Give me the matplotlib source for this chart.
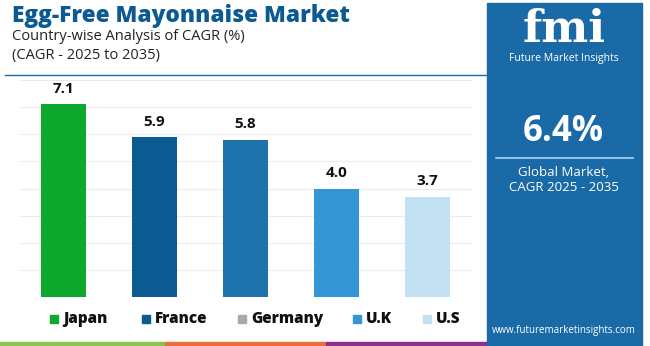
import matplotlib
matplotlib.use("Agg")
import matplotlib.pyplot as plt
from matplotlib.patches import Rectangle
from matplotlib.lines import Line2D

countries = ["Japan", "France", "Germany", "U.K", "U.S"]
cagr = [7.1, 5.9, 5.8, 4.0, 3.7]
bar_colors = ["#0ea82e", "#0b5a91", "#1e73ad", "#3596d6", "#c3e1f2"]
legend_colors = ["#0ea82e", "#0b5a91", "#aaaaaa", "#3596d6", "#c3e1f2"]
global_cagr = "6.4%"

W, H = 650, 346
plt.rcParams["font.family"] = ["Open Sans", "DejaVu Sans"]

fig = plt.figure(figsize=(W / 100, H / 100), dpi=100)
fig.patch.set_facecolor("white")


def fx(px):
    return px / W


def fy(py):
    return 1 - py / H


# bar chart
ax = fig.add_axes([fx(20), fy(297), fx(452), 217 / H])
x = range(len(countries))
bars = ax.bar(x, cagr, width=0.495, color=bar_colors, zorder=3)
for b, v in zip(bars, cagr):
    ax.annotate(f"{v:.1f}", (b.get_x() + b.get_width() / 2, v),
                xytext=(0, 6), textcoords="offset points", ha="center",
                va="bottom", fontsize=11, fontweight="bold", color="#111111")
ax.set_xlim(-0.478, 4.49)
ax.set_ylim(0, 8)
ax.set_yticks(range(0, 9))
ax.grid(axis="y", color="#ececec", linewidth=0.8, zorder=0)
ax.set_xticks([])
ax.tick_params(left=False, labelleft=False)
for s in ax.spines.values():
    s.set_visible(False)

# titles
fig.text(fx(12), fy(16), "Egg-Free Mayonnaise Market", fontsize=16.3,
         fontweight="heavy", color="#0b5a91", va="center", ha="left")
fig.text(fx(12), fy(37), "Country-wise Analysis of CAGR (%)", fontsize=10.5,
         color="#222222", va="center", ha="left")
fig.text(fx(12), fy(56), "(CAGR - 2025 to 2035)", fontsize=10.5,
         color="#222222", va="center", ha="left")
fig.add_artist(Line2D([fx(5), fx(487)], [fy(75), fy(75)], color="#1a6aa8",
                      linewidth=1))

# legend
leg_sq = [50, 142, 238, 353, 423]
for px, name, c in zip(leg_sq, countries, legend_colors):
    fig.add_artist(Rectangle((fx(px), fy(323)), fx(8), 8 / H, color=c))
    fig.text(fx(px + 13), fy(319), name, fontsize=11, fontweight="heavy",
             color="#111111", va="center", ha="left")

# bottom stripes
for x0, x1, c in [(0, 165, "#8cc34a"), (165, 326, "#e8703d"), (326, 487, "#8e2f8c")]:
    fig.add_artist(Rectangle((fx(x0), 0), fx(x1 - x0), 4 / H, color=c))

# right panel
fig.add_artist(Rectangle((fx(487), 0), fx(155), fy(3), color="#1b6aa8"))
fig.text(fx(564), fy(30), "fmi", fontsize=32, fontweight="bold",
         family="DejaVu Serif", color="white", ha="center", va="center")
fig.text(fx(564), fy(58), "Future Market Insights", fontsize=7.5,
         color="white", ha="center", va="center")
fig.text(fx(563), fy(132), global_cagr, fontsize=25, fontweight="bold",
         color="white", ha="center", va="center")
fig.add_artist(Line2D([fx(496), fx(633)], [fy(158), fy(158)],
                      color="#a9d2ef", linewidth=1.2))
fig.text(fx(564), fy(172), "Global Market,", fontsize=9.5, color="white",
         ha="center", va="center")
fig.text(fx(564), fy(188), "CAGR 2025 - 2035", fontsize=9.5, color="white",
         ha="center", va="center")
fig.text(fx(564), fy(331), "www.futuremarketinsights.com", fontsize=7,
         color="white", ha="center", va="center")

fig.savefig("out.png", dpi=100)
